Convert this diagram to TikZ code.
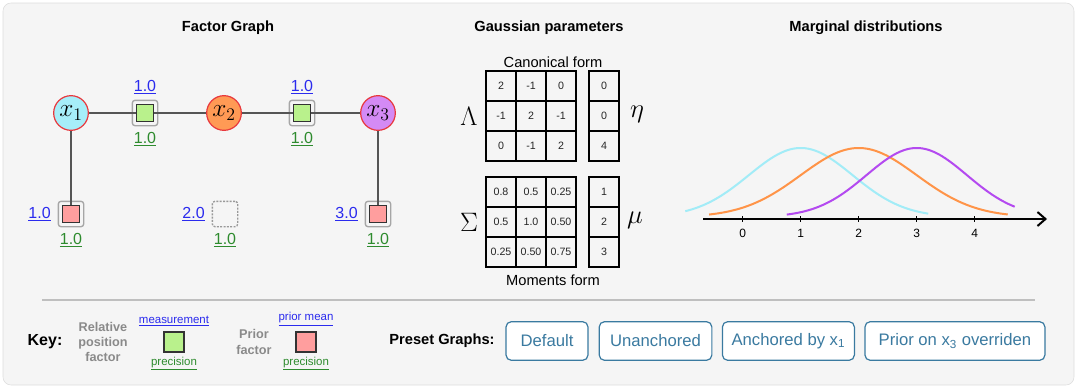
\RequirePackage{fix-cm}
\documentclass[tikz,border=0pt]{standalone}
\usepackage{fontspec}
\setmainfont{Liberation Sans}
\usetikzlibrary{arrows.meta, positioning}
\definecolor{gpbg}{HTML}{F5F5F5}
\definecolor{gpframe}{HTML}{DCDCDC}
\definecolor{gpred}{HTML}{E8383D}
\definecolor{gpcyan}{HTML}{A6EEF9}
\definecolor{gporange}{HTML}{FF9A55}
\definecolor{gppurple}{HTML}{D48AF5}
\definecolor{gpgreen}{HTML}{B9F18C}
\definecolor{gppink}{HTML}{FF9E9E}
\definecolor{gpblue}{HTML}{2B2BEE}
\definecolor{gpdkgreen}{HTML}{2E8B2E}
\definecolor{gpedge}{HTML}{555555}
\definecolor{gpgray}{HTML}{8A8A8A}
\definecolor{gpbtn}{HTML}{3A7AA0}
\definecolor{gpccyan}{HTML}{A2ECF7}
\definecolor{gpcorange}{HTML}{FF9448}
\definecolor{gpcpurple}{HTML}{B44AF0}
\tikzset{
    title/.style={font=\fontsize{11}{13}\selectfont\bfseries},
    var/.style={circle, draw=gpred, line width=0.9pt, minimum size=26pt, inner sep=0pt,
                font=\fontsize{19}{19}\selectfont},
    facbox/.style={draw=gray!70, line width=1pt, rounded corners=2pt, minimum size=19pt, inner sep=0pt},
    nofac/.style={facbox, draw=gray!80, dash pattern=on 1.5pt off 1pt},
    fac/.style={draw=black!80, line width=0.9pt, minimum size=12.5pt, inner sep=0pt},
    relfac/.style={fac, fill=gpgreen},
    priorfac/.style={fac, fill=gppink},
    edge/.style={draw=gpedge, line width=1.1pt},
    meas/.style={text=gpblue, font=\fontsize{12}{14}\selectfont, inner sep=1pt},
    prec/.style={text=gpdkgreen, font=\fontsize{12}{14}\selectfont, inner sep=1pt},
    small/.style={font=\fontsize{8.6}{10}\selectfont},
    cell/.style={draw, line width=1.1pt, minimum size=22.5pt, inner sep=0pt,
                 font=\fontsize{8}{8}\selectfont, text=black!85},
    sym/.style={font=\fontsize{20}{20}\selectfont},
    caption/.style={font=\fontsize{11}{13}\selectfont},
    curve/.style={line width=1.5pt},
    axis/.style={line width=1.5pt, black},
    tick/.style={font=\fontsize{9}{10}\selectfont},
    keyhead/.style={font=\fontsize{12}{14}\selectfont\bfseries},
    keytxt/.style={text=gpgray, align=center, font=\fontsize{9.5}{11.5}\selectfont\bfseries},
    btn/.style={draw=gpbtn, line width=0.9pt, fill=white, rounded corners=4pt, text=gpbtn,
                minimum height=29pt, inner sep=0pt, font=\fontsize{12.5}{14}\selectfont},
}
\begin{document}
\begin{tikzpicture}[x=0.75pt, y=-0.75pt]
    \useasboundingbox (0,0) rectangle (1078,389);
    \draw[gpframe, fill=gpbg, rounded corners=6pt] (3,3) rectangle (1074,385);
    \node[title] (fgtitle) at (228,28) {Factor Graph};
    \node[title] (gptitle) at (549,28) {Gaussian parameters};
    \node[title] (mdtitle) at (866,28) {Marginal distributions};

    \node[var, fill=gpcyan] (x1) at (71,113) {$x_1$};
    \node[var, fill=gporange] (x2) at (224,113) {$x_2$};
    \node[var, fill=gppurple] (x3) at (378,113) {$x_3$};
    \node[facbox] (f12box) at (145,113) {};
    \node[facbox] (f23box) at (302,113) {};
    \node[facbox] (p1box) at (71,214) {};
    \node[nofac] (p2box) at (225,214) {};
    \node[facbox] (p3box) at (378,214) {};
    \node[relfac] (f12) at (f12box) {};
    \node[relfac] (f23) at (f23box) {};
    \node[priorfac] (p1) at (p1box) {};
    \node[priorfac] (p3) at (p3box) {};
    \draw[edge] (x1) -- (f12) -- (x2) -- (f23) -- (x3);
    \draw[edge] (x1) -- (p1);
    \draw[edge] (x3) -- (p3);
    \node[meas, above=3pt of f12box] (f12m) {\underline{1.0}};
    \node[prec, below=3pt of f12box] (f12p) {\underline{1.0}};
    \node[meas, above=3pt of f23box] (f23m) {\underline{1.0}};
    \node[prec, below=3pt of f23box] (f23p) {\underline{1.0}};
    \node[meas, left=4pt of p1box] (p1m) {\underline{1.0}};
    \node[prec, below=3pt of p1box] (p1p) {\underline{1.0}};
    \node[meas, left=4pt of p2box] (p2m) {\underline{2.0}};
    \node[prec, below=3pt of p2box] (p2p) {\underline{1.0}};
    \node[meas, left=4pt of p3box] (p3m) {\underline{3.0}};
    \node[prec, below=3pt of p3box] (p3p) {\underline{1.0}};

    \node[caption] (canon) at (553,62) {Canonical form};
    \foreach \row [count=\r] in {{2,-1,0},{-1,2,-1},{0,-1,2}}
        \foreach \v [count=\c] in \row
            \node[cell] (L\r\c) at ({471+30*\c},{56+30*\r}) {\v};
    \foreach \v [count=\r] in {0,0,4}
        \node[cell] (eta\r) at (604,{56+30*\r}) {\v};
    \foreach \row [count=\r] in {{0.8,0.5,0.25},{0.5,1.0,0.50},{0.25,0.50,0.75}}
        \foreach \v [count=\c] in \row
            \node[cell] (S\r\c) at ({471+30*\c},{162+30*\r}) {\v};
    \foreach \v [count=\r] in {1,2,3}
        \node[cell] (mu\r) at (604,{162+30*\r}) {\v};
    \node[sym] (lam) at (469,116) {$\Lambda$};
    \node[sym] (etasym) at (637,114) {$\eta$};
    \node[sym] (sig) at (469,222) {$\Sigma$};
    \node[sym] (musym) at (635,220) {$\mu$};
    \node[caption] (moments) at (553,280) {Moments form};

    \draw[gpccyan, curve] plot[domain=-0.99:3.2, samples=80]
        ({742.7+58*\x}, {217-69*exp(((\x-1)^2)/(-1.6))});
    \draw[gpcorange, curve] plot[domain=-0.58:4.57, samples=80]
        ({742.7+58*\x}, {217-69*exp(((\x-2)^2)/(-2))});
    \draw[gpcpurple, curve] plot[domain=0.76:4.69, samples=80]
        ({742.7+58*\x}, {217-69*exp(((\x-3)^2)/(-1.5))});
    \coordinate (axstart) at (703,219);
    \coordinate (axend) at (1047,219);
    \draw[axis, -{Straight Barb[length=6pt, width=10.5pt]}] (axstart) -- (axend);
    \foreach \t in {0,...,4} {
        \draw[line width=0.8pt] ({742.7+58*\t},216) -- ({742.7+58*\t},222);
        \node[tick] (tk\t) at ({742.7+58*\t},233) {\t};
    }

    \draw[gray!50, line width=1.5pt] (42,300) -- (1035,300);
    \node[keyhead] (key) at (45,342) {Key:};
    \node[keytxt] (relkey) at (103,342) {Relative\\position\\factor};
    \node[relfac, minimum size=15pt] (relsq) at (174,342) {};
    \node[meas, small, above=3pt of relsq] (relm) {\underline{measurement}};
    \node[prec, small, below=2pt of relsq] (relp) {\underline{precision}};
    \node[keytxt] (priorkey) at (254,342) {Prior\\factor};
    \node[priorfac, minimum size=15pt] (priorsq) at (306,342) {};
    \node[meas, small, above=3pt of priorsq] (priorm) {\underline{prior mean}};
    \node[prec, small, below=2pt of priorsq] (priorp) {\underline{precision}};

    \node[keyhead, font=\fontsize{11}{13}\selectfont\bfseries] (preset) at (442,341) {Preset Graphs:};
    \node[btn, minimum width=61.5pt] (bdefault) at (547,341) {Default};
    \node[btn, minimum width=84.5pt, right=7.5pt of bdefault] (bunanch) {Unanchored};
    \node[btn, minimum width=99pt, right=7pt of bunanch] (banch) {Anchored by x\textsubscript{1}};
    \node[btn, minimum width=135pt, right=7pt of banch] (bprior) {Prior on x\textsubscript{3} overriden};
\end{tikzpicture}
\end{document}
